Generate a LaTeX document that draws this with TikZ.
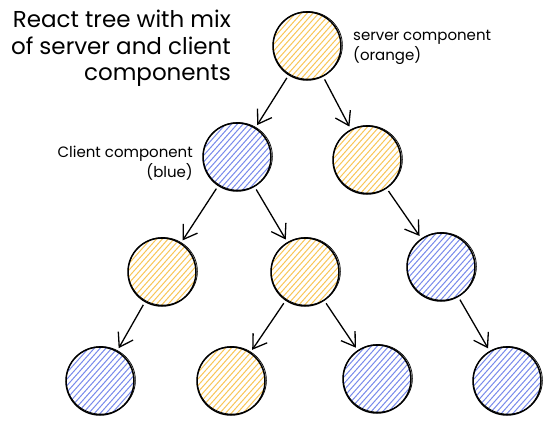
\documentclass[tikz,border=0pt]{standalone}
\usepackage{fontspec}
\setmainfont{Poppins}
\usetikzlibrary{arrows.meta}
\definecolor{orangeH}{RGB}{248,198,88}
\definecolor{blueH}{RGB}{120,138,235}
\begin{document}
\begin{tikzpicture}[x=1pt,y=-1pt,
 comp/.style={circle, draw=black, line width=1.5pt, minimum size=68pt, inner sep=0pt},
 hatch/.style={path picture={
   \begin{scope}[shift={(path picture bounding box.center)}]
   \foreach \k in {-87,-81.2,...,87} \draw[#1, line width=1pt] (\k-40,45) -- (\k+40,-45);
   \end{scope}}},
 srv/.style={comp, hatch=orangeH},
 cli/.style={comp, hatch=blueH},
 rough/.style={line width=0.7pt},
 link/.style={line width=1.3pt, -{Straight Barb[length=13pt,width=17pt,line width=1.3pt]}, shorten <=3pt, shorten >=3pt},
 lbl/.style={font=\fontsize{15}{20}\selectfont, inner sep=0pt},
 ttl/.style={font=\fontsize{23}{26.5}\selectfont, inner sep=0pt}
]
\useasboundingbox (0,0) rectangle (554,428);
\node[srv] (root) at (307,46) {};
\node[cli] (a) at (237,157) {};
\node[srv] (b) at (367,160) {};
\node[srv] (c) at (162,272) {};
\node[srv] (d) at (305,272) {};
\node[cli] (e) at (441,267) {};
\node[cli] (f) at (100,381) {};
\node[srv] (g) at (231,381) {};
\node[cli] (h) at (377,379) {};
\node[cli] (i) at (507,381) {};
\foreach \n in {root,a,b,c,d,e,f,g,h,i}
  \draw[rough] ([shift={(0.8,-0.7)}]\n.center) ellipse [x radius=34.6, y radius=33.8];
\foreach \s/\t in {root/a,root/b,a/c,a/d,b/e,c/f,d/g,d/h,e/i}
  \draw[link] (\s) -- (\t);
\node[ttl, anchor=north east, align=right] (title) at (231,10) {React tree with mix\\of server and client\\components};
\node[lbl, anchor=west, align=left] (srvlbl) at (353,47) {server component\\(orange)};
\node[lbl, anchor=east, align=right] (clilbl) at (193,163) {Client component\\(blue)};
\end{tikzpicture}
\end{document}
